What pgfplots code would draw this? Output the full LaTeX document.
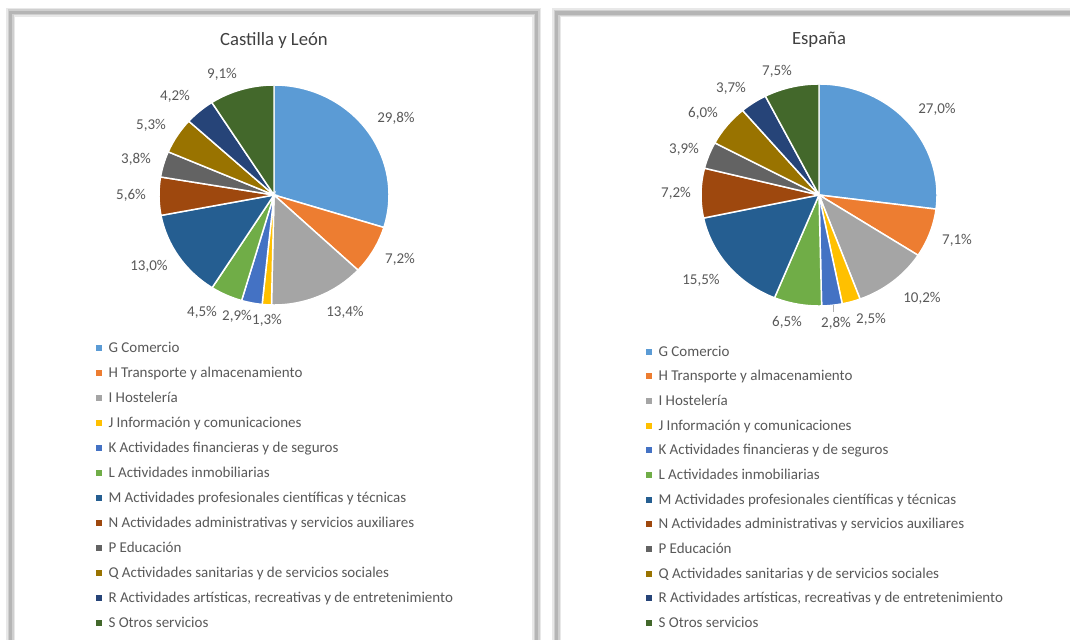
\documentclass[border=0pt]{standalone}
\usepackage{pgfplots}
\pgfplotsset{compat=1.18}
\usepackage{pgfplotstable}
\usepackage{fontspec}
\setmainfont{Carlito}
\definecolor{c0}{HTML}{5B9BD5}
\definecolor{c1}{HTML}{ED7D31}
\definecolor{c2}{HTML}{A5A5A5}
\definecolor{c3}{HTML}{FFC000}
\definecolor{c4}{HTML}{4472C4}
\definecolor{c5}{HTML}{70AD47}
\definecolor{c6}{HTML}{255E91}
\definecolor{c7}{HTML}{9E480E}
\definecolor{c8}{HTML}{636363}
\definecolor{c9}{HTML}{997300}
\definecolor{c10}{HTML}{264478}
\definecolor{c11}{HTML}{43682B}
\definecolor{txt}{HTML}{595959}
\definecolor{ttl}{HTML}{404040}
\newlength\px \setlength\px{0.75pt}

% v = share (%), lx/ly = label centre offset from pie centre (px, y downwards)
\pgfplotstableread{
v lx ly
29.8 122 -77
7.2 126 63
13.4 71 116
1.3 -7 124
2.9 -37 120
4.5 -72 116
13.0 -125 71
5.6 -143 0
3.8 -138 -36
5.3 -123 -70
4.2 -99 -99
9.1 -52 -121
}\cyltable

\pgfplotstableread{
v lx ly
27.0 118 -86
7.1 138 44
10.2 103 102
2.5 52 123
2.8 17 127
6.5 -32 126
15.5 -118 84
7.2 -143 -2
3.9 -135 -46
6.0 -116 -82
3.7 -88 -107
7.5 -42 -124
}\esptable

\newcommand\prep[2]{%
  \def\tot{0}%
  \pgfplotsforeachungrouped \r in {0,...,11}{%
    \pgfplotstablegetelem{\r}{v}\of{#1}%
    \pgfmathsetmacro\tot{\tot+\pgfplotsretval}}%
  \def\cum{0}%
  \pgfplotsforeachungrouped \r in {0,...,11}{%
    \pgfplotstablegetelem{\r}{v}\of{#1}\let\vv\pgfplotsretval
    \pgfmathsetmacro\sa{90-\cum/\tot*360}%
    \pgfmathsetmacro\cum{\cum+\vv}%
    \pgfmathsetmacro\ea{90-\cum/\tot*360}%
    \expandafter\xdef\csname #2sa\r\endcsname{\sa}%
    \expandafter\xdef\csname #2ea\r\endcsname{\ea}%
    \expandafter\xdef\csname #2v\r\endcsname{\vv}%
    \pgfplotstablegetelem{\r}{lx}\of{#1}%
    \expandafter\xdef\csname #2lx\r\endcsname{\pgfplotsretval}%
    \pgfplotstablegetelem{\r}{ly}\of{#1}%
    \expandafter\xdef\csname #2ly\r\endcsname{\pgfplotsretval}%
  }}
\prep{\cyltable}{L}
\prep{\esptable}{E}

\newcommand\drawpie[3]{%
  \pgfplotsinvokeforeach{0,...,11}{%
    \fill[c##1, draw=white, line width=1.1pt] (axis cs:0,0) --
      (axis cs:{cos(\csname #1sa##1\endcsname)},{sin(\csname #1sa##1\endcsname)})
      arc[start angle=\csname #1sa##1\endcsname, end angle=\csname #1ea##1\endcsname,
          x radius=#2*\px, y radius=#3*\px] -- cycle;
  }%
  \pgfplotsinvokeforeach{0,...,11}{%
    \node[font=\fontsize{11.25}{13}\selectfont, text=txt, inner sep=0pt, anchor=base]
      at ([xshift={(\csname #1lx##1\endcsname)*\px}, yshift={-(\csname #1ly##1\endcsname+5)*\px}]axis cs:0,0)
      {\pgfmathprintnumber[fixed, fixed zerofill, precision=1, use comma, assume math mode=true]{\csname #1v##1\endcsname}\%};
  }}

\newcommand\legentries{%
  \addlegendimage{c0}\addlegendentry{G Comercio}
  \addlegendimage{c1}\addlegendentry{H Transporte y almacenamiento}
  \addlegendimage{c2}\addlegendentry{I Hostelería}
  \addlegendimage{c3}\addlegendentry{J Información y comunicaciones}
  \addlegendimage{c4}\addlegendentry{K Actividades financieras y de seguros}
  \addlegendimage{c5}\addlegendentry{L Actividades inmobiliarias}
  \addlegendimage{c6}\addlegendentry{M Actividades profesionales científicas y técnicas}
  \addlegendimage{c7}\addlegendentry{N Actividades administrativas y servicios auxiliares}
  \addlegendimage{c8}\addlegendentry{P Educación}
  \addlegendimage{c9}\addlegendentry{Q Actividades sanitarias y de servicios sociales}
  \addlegendimage{c10}\addlegendentry{R Actividades artísticas, recreativas y de entretenimiento}
  \addlegendimage{c11}\addlegendentry{S Otros servicios}}

\pgfplotsset{pieaxis/.style={hide axis, clip=false,
    xmin=-1, xmax=1, ymin=-1, ymax=1, anchor=center,
    legend cell align=left,
    legend image code/.code={\fill[##1] (0pt,-1.2pt) rectangle (3.8pt,2.6pt);},
    legend style={draw=none, fill=none, font=\fontsize{11.25}{13}\selectfont,
      text=txt, inner sep=0pt, column sep=5pt, row sep=9.5pt,
      nodes={inner sep=0pt, text height=7.5pt, text depth=1.8pt},
      anchor=north west},
    title style={font=\fontsize{14}{16}\selectfont, text=ttl,
      at={(0.5,1)}, anchor=base, yshift=23.25pt}}}

\begin{document}
\begin{tikzpicture}
\useasboundingbox (0,0) rectangle ({1070*\px},{639*\px});
\fill[white] (0,0) rectangle ({1070*\px},{639*\px});
\begin{scope}
\clip (0,0) rectangle ({1070*\px},{639*\px});
\foreach \w/\c in {9/18, 6/38, 3.5/58}{
  \draw[line width=\w*\px, gray!\c] ({10.5*\px},{(639-12.5)*\px}) rectangle ({536.5*\px},{-20*\px});
  \draw[line width=\w*\px, gray!\c] ({556.5*\px},{(639-13)*\px}) rectangle ({1100*\px},{-20*\px});
}
\end{scope}

\begin{axis}[pieaxis, at={({274*\px},{(639-195)*\px})},
    x=86.25pt, y=82.5pt, title={Castilla y León},
    legend style={at={(-0.274,-0.168)}}]
  \drawpie{L}{115}{110}
  \legentries
\end{axis}

\begin{axis}[pieaxis, at={({819*\px},{(639-195)*\px})},
    x=88.5pt, y=83.25pt, title={España},
    legend style={at={(-0.233,-0.180)}, row sep=9.2pt}]
  \drawpie{E}{118}{111}
  \draw[gray!60, line width=0.5pt] (axis cs:{14/118},{-110/111}) -- (axis cs:{14/118},{-117/111});
  \legentries
\end{axis}
\end{tikzpicture}
\end{document}
